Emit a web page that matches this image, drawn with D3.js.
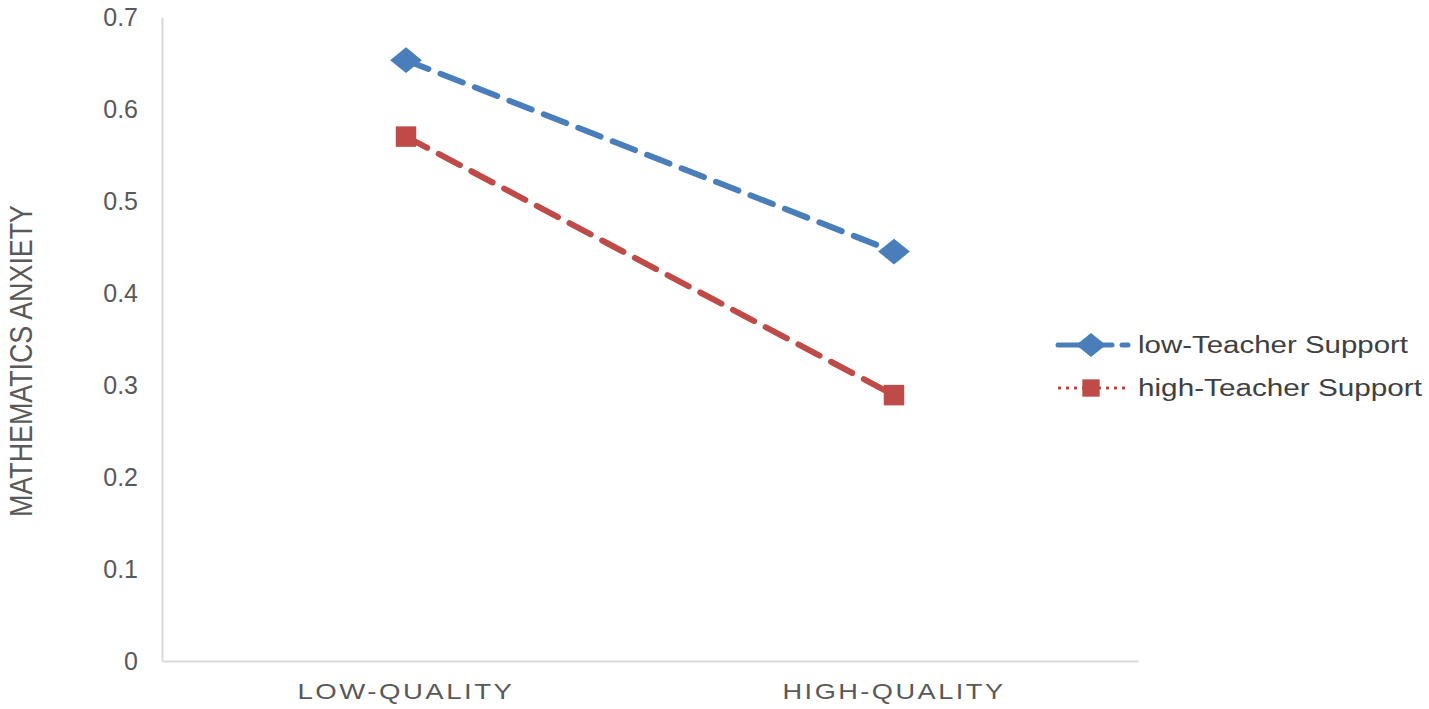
<!DOCTYPE html>
<html>
<head>
<meta charset="utf-8">
<script src="https://cdn.jsdelivr.net/npm/d3@7"></script>
<style>
  body { margin: 0; background: #fff; }
  text { font-family: "Liberation Sans", Arial, sans-serif; }
</style>
</head>
<body>
<svg width="1429" height="709"></svg>
<script>
var categories = ['LOW-QUALITY', 'HIGH-QUALITY'];
var seriesNames = ['low-Teacher Support', 'high-Teacher Support'];
var lowSupport = [0.653, 0.445];
var highSupport = [0.570, 0.289];
var yTicks = [0, 0.1, 0.2, 0.3, 0.4, 0.5, 0.6, 0.7];

var series = [
  { name: seriesNames[0], values: lowSupport, color: '#4a7ebb', marker: d3.symbolDiamond, legendDash: '22,10', textLen: 270 },
  { name: seriesNames[1], values: highSupport, color: '#be4b48', marker: d3.symbolSquare, legendDash: '3,5', textLen: 284 }
];

var svg = d3.select('svg');
var mLeft = 162, mRight = 1138, mTop = 17, mBottom = 661;

var x = d3.scaleBand().domain(categories).range([mLeft, mRight]);
var y = d3.scaleLinear().domain([0, 0.7]).range([mBottom, mTop]);

// y axis
var yAxis = svg.append('g')
  .attr('transform', 'translate(' + mLeft + ',0)')
  .call(d3.axisLeft(y).tickValues(yTicks).tickSize(0).tickPadding(24)
    .tickFormat(function(d) { return d === 0 ? '0' : d3.format('.1f')(d); }));
yAxis.select('.domain').attr('stroke', '#d9d9d9').attr('stroke-width', 2);
yAxis.selectAll('text').attr('font-size', 25).attr('fill', '#595959')
  .style('font-family', '"Liberation Sans", Arial, sans-serif');

// x axis
var xLens = { 'LOW-QUALITY': 217, 'HIGH-QUALITY': 223 };
var xAxis = svg.append('g')
  .attr('transform', 'translate(0,' + mBottom + ')')
  .call(d3.axisBottom(x).tickSize(0).tickPadding(22));
xAxis.select('.domain').attr('stroke', '#d9d9d9').attr('stroke-width', 2);
xAxis.selectAll('text').attr('font-size', 22).attr('fill', '#595959')
  .attr('letter-spacing', 2)
  .attr('textLength', function(d) { return xLens[d]; })
  .attr('lengthAdjust', 'spacingAndGlyphs')
  .style('font-family', '"Liberation Sans", Arial, sans-serif');

// y title
svg.append('text')
  .attr('transform', 'translate(32,' + 361 + ') scale(1.4,1) rotate(-90)')
  .attr('text-anchor', 'middle')
  .attr('font-size', 22)
  .attr('textLength', 312)
  .attr('lengthAdjust', 'spacingAndGlyphs')
  .attr('fill', '#595959')
  .text('MATHEMATICS ANXIETY');

var line = d3.line()
  .x(function(d, i) { return x(categories[i]) + x.bandwidth() / 2; })
  .y(function(d) { return y(d); });

function markerScale(s) {
  return s.marker === d3.symbolDiamond ? ' scale(1.6,0.75)' : '';
}

series.forEach(function(s) {
  svg.append('path')
    .datum(s.values)
    .attr('d', line)
    .attr('fill', 'none')
    .attr('stroke', s.color)
    .attr('stroke-width', 6)
    .attr('stroke-dasharray', '24,13')
    .attr('stroke-linecap', 'round');

  svg.selectAll(null)
    .data(s.values)
    .enter()
    .append('path')
    .attr('d', d3.symbol().type(s.marker).size(s.marker === d3.symbolSquare ? 420 : 340))
    .attr('transform', function(d, i) {
      return 'translate(' + (x(categories[i]) + x.bandwidth() / 2) + ',' + y(d) + ')' + markerScale(s);
    })
    .attr('fill', s.color);
});

// legend
var legend = svg.append('g').attr('transform', 'translate(1058,345)');
series.forEach(function(s, i) {
  var g = legend.append('g').attr('transform', 'translate(0,' + (i * 43) + ')');
  g.append('line')
    .attr('x1', 0).attr('x2', 70)
    .attr('stroke', s.color)
    .attr('stroke-width', i === 0 ? 5 : 3)
    .attr('stroke-dasharray', s.legendDash)
    .attr('stroke-linecap', i === 0 ? 'round' : 'butt');
  g.append('path')
    .attr('d', d3.symbol().type(s.marker).size(300))
    .attr('transform', 'translate(33,0)' + markerScale(s))
    .attr('fill', s.color);
  g.append('text')
    .attr('x', 80)
    .attr('dy', '0.35em')
    .attr('font-size', 23)
    .attr('textLength', s.textLen)
    .attr('lengthAdjust', 'spacingAndGlyphs')
    .attr('fill', '#404040')
    .text(s.name);
});
</script>
</body>
</html>
